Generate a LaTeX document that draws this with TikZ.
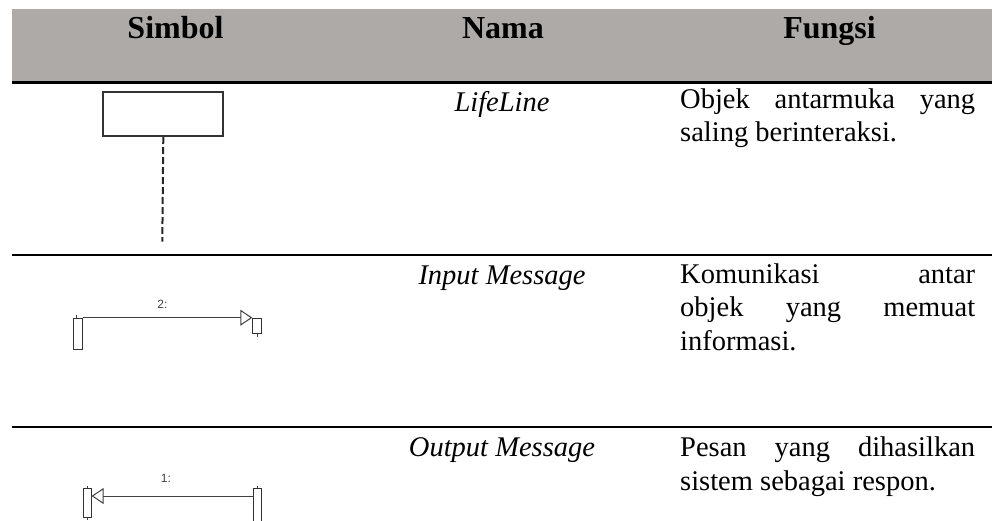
\documentclass[tikz,border=0pt]{standalone}
\usepackage{fontspec}
\setmainfont{Liberation Serif}
\newfontfamily\lsans{Liberation Sans}
\usetikzlibrary{arrows.meta}
\definecolor{hdrgray}{RGB}{174,170,168}
\begin{document}
\begin{tikzpicture}[x=1pt,y=-1pt,
  hdr/.style={font=\fontsize{32}{38}\selectfont\bfseries, anchor=base, inner sep=0},
  nama/.style={font=\fontsize{28.5}{33.5}\selectfont\itshape, anchor=base, inner sep=0},
  fungsi/.style={font=\fontsize{28.5}{33.5}\selectfont, anchor=base west, inner sep=0},
  rulebar/.style={line width=2.6pt, black},
  actbox/.style={draw=black!80, line width=0.9pt, fill=white, inner sep=0, anchor=north west},
  msgline/.style={line width=1pt, black!75, -{Triangle[open, length=12pt, width=16pt, line width=1pt]}},
  tick/.style={line width=0.8pt, black!75},
  msglbl/.style={font=\lsans\fontsize{12}{12}\selectfont, text=black!75, anchor=base, inner sep=0},
]
\useasboundingbox (0,0) rectangle (992,520);
% header
\fill[hdrgray] (12,9) rectangle (992,81);
\node[hdr] (hsim) at (175.5,38.3) {Simbol};
\node[hdr] (hnam) at (503,38.3) {Nama};
\node[hdr] (hfun) at (829.5,38.3) {Fungsi};
% rules
\draw[rulebar] (12,82.3) -- (992,82.3);
\draw[rulebar] (12,254.8) -- (992,254.8);
\draw[rulebar] (12,426.8) -- (992,426.8);

% row 1: lifeline
\node[draw=black!80, line width=2pt, minimum width=120pt, minimum height=44.3pt, inner sep=0, anchor=north west] (ll) at (102.3,90.7) {};
\coordinate (llend) at (162.3,241.7);
\draw[black!85, line width=2pt, dash pattern=on 7pt off 3pt] (ll.south) -- (llend);
\node[nama] (n1) at (502,111) {LifeLine};
\node[fungsi] (f1a) at (680,108) {\makebox[295pt][s]{Objek antarmuka yang}};
\node[fungsi] (f1b) at (680,141.5) {saling berinteraksi.};

% row 2: input message
\node[actbox, minimum width=8.4pt, minimum height=31.3pt] (lb2) at (73.3,317.7) {};
\node[actbox, minimum width=8.4pt, minimum height=15.6pt] (rb2) at (252.3,317.7) {};
\draw[msgline] (lb2.north east) -- (rb2.north west);
\draw[tick] (lb2.north) ++(-1.5,0) -- ++(0,-3);
\draw[tick] (rb2.south) ++(0,0) -- ++(0,3);
\node[msglbl] (m2) at (162.5,308) {2:};
\node[nama] (n2) at (502,284) {Input Message};
\node[fungsi] (f2a) at (680,283.3) {\makebox[295pt][s]{Komunikasi antar}};
\node[fungsi] (f2b) at (680,316.7) {\makebox[295pt][s]{objek yang memuat}};
\node[fungsi] (f2c) at (680,350) {informasi.};

% row 3: output message
\node[actbox, minimum width=8pt, minimum height=28.4pt] (lb3) at (82.7,488.3) {};
\node[actbox, minimum width=7.4pt, minimum height=33pt] (rb3) at (253.3,488.3) {};
\draw[msgline] ([yshift=-7.7pt]rb3.north west) -- ([yshift=-7.7pt]lb3.north east);
\draw[tick] (lb3.north) -- ++(0,-2.5);
\draw[tick] (lb3.south) -- ++(0,2.5);
\draw[tick] (rb3.north) -- ++(0,-2.5);
\node[msglbl] (m3) at (166,482) {1:};
\node[nama] (n3) at (502,456) {Output Message};
\node[fungsi] (f3a) at (680,456.7) {\makebox[295pt][s]{Pesan yang dihasilkan}};
\node[fungsi] (f3b) at (680,490) {sistem sebagai respon.};
\end{tikzpicture}
\end{document}
